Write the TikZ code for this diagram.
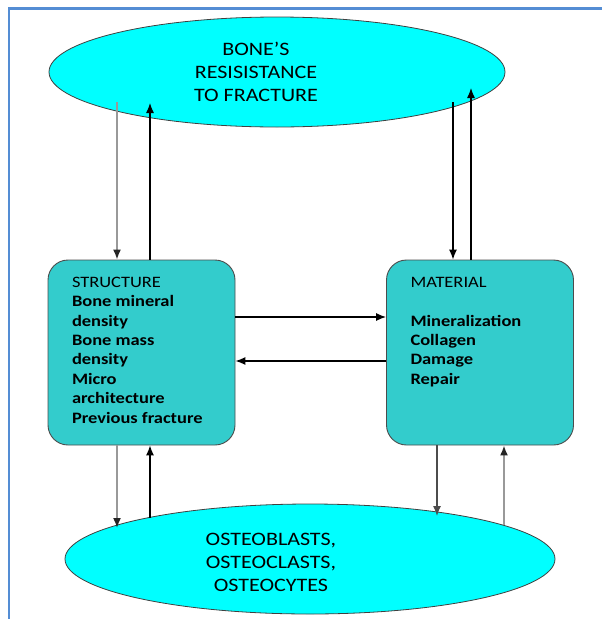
\documentclass[tikz,border=0pt]{standalone}
\usepackage{fontspec}
\setmainfont{Carlito}[FakeStretch=1.16]
\usepackage{tikz}
\usetikzlibrary{shapes.geometric}
\usetikzlibrary{arrows.meta}
\usepackage{xcolor}
\definecolor{framecol}{RGB}{84,141,212}
\definecolor{ovalcol}{RGB}{0,255,255}
\definecolor{boxcol}{RGB}{51,204,204}

\begin{document}
\begin{tikzpicture}[x=1pt, y=-1pt,
  oval/.style={ellipse, draw=black!75, line width=0.8pt, fill=ovalcol, inner sep=0pt},
  ovaltext/.style={align=center, font=\fontsize{19}{23}\selectfont},
  factor/.style={rectangle, rounded corners=20pt, draw=black!70, line width=0.9pt, fill=boxcol,
    minimum width=187pt, minimum height=185pt, inner sep=0pt, font=\fontsize{15.9}{19.4}\selectfont},
  arr/.style={-{Latex[length=10pt,width=8pt]}, line width=1.2pt},
  greyarr/.style={-{Latex[length=10pt,width=8pt,color=black!85]}, line width=1.6pt, black!40}]
\useasboundingbox (0,0) rectangle (602,619);
\draw[framecol, line width=2.2pt] (9,619) -- (9,8.5) -- (602,8.5);

% the two ovals
\node[oval, minimum width=456pt, minimum height=110pt] (resist) at (277,72) {};
\node[ovaltext] (resisttext) at ([xshift=-21pt]resist.center) {BONE'S\\RESISISTANCE\\TO FRACTURE};
\node[oval, minimum width=490pt, minimum height=110pt] (cells) at (310,559) {};
\node[ovaltext] (cellstext) at ([xshift=-39pt,yshift=-3.5pt]cells.center) {OSTEOBLASTS,\\OSTEOCLASTS,\\OSTEOCYTES};

% the two boxes
\node[factor] (structure) at (141.5,352.5) {\parbox[c][151pt][t]{139pt}{\raggedright
  STRUCTURE\\
  \textbf{Bone mineral}\\
  \textbf{density}\\
  \textbf{Bone mass}\\
  \textbf{density}\\
  \textbf{Micro}\\
  \textbf{architecture}\\
  \textbf{Previous fracture}}};
\node[factor] (material) at (480,352.5) {\parbox[c][151pt][t]{139pt}{\raggedright
  MATERIAL\\[\baselineskip]
  \textbf{Mineralization}\\
  \textbf{Collagen}\\
  \textbf{Damage}\\
  \textbf{Repair}}};

% arrow ends on the ovals
\coordinate (tl1) at (117,102);
\coordinate (tl2) at (150,103);
\coordinate (tr1) at (453,102);
\coordinate (tr2) at (471,88);
\coordinate (bl1) at (117,528);
\coordinate (bl2) at (150,518);
\coordinate (br1) at (437,516);
\coordinate (br2) at (504,525);

\draw[greyarr] (tl1) -- (tl1 |- structure.north);
\draw[arr] (tl2 |- structure.north) -- (tl2);
\draw[arr] (tr1) -- (tr1 |- material.north);
\draw[arr] (tr2 |- material.north) -- (tr2);
\draw[greyarr] (bl1 |- structure.south) -- (bl1);
\draw[arr] (bl2) -- (bl2 |- structure.south);
\draw[arr, black!70] (br1 |- material.south) -- (br1);
\draw[greyarr] (br2) -- (br2 |- material.south);

\draw[arr] ([yshift=35.5pt]structure.east) -- ([yshift=35.5pt]material.west);
\draw[arr] ([yshift=-8.5pt]material.west) -- ([yshift=-8.5pt]structure.east);

\end{tikzpicture}
\end{document}
